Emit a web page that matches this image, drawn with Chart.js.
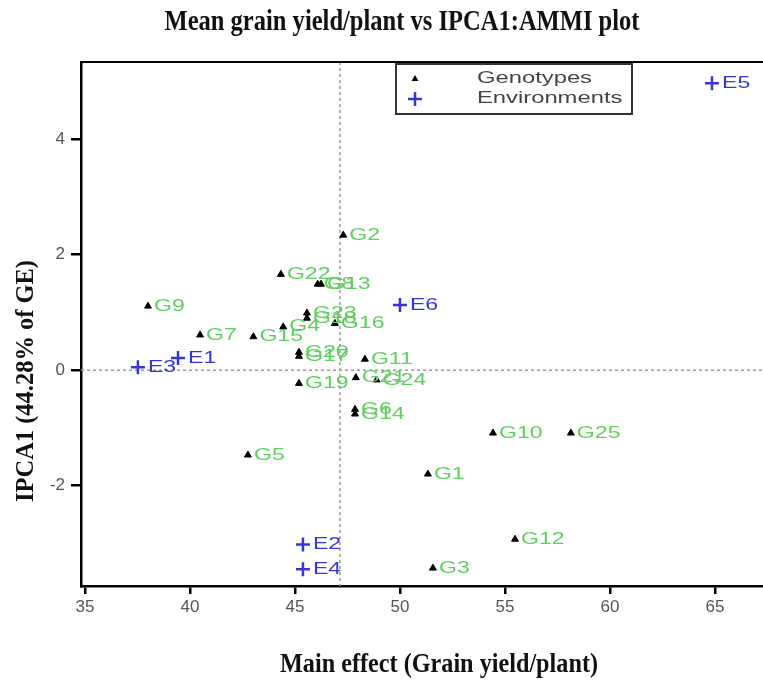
<!DOCTYPE html>
<html>
<head>
<meta charset="utf-8">
<script src="https://cdn.jsdelivr.net/npm/chart.js@4/dist/chart.umd.min.js"></script>
<style>
  body { margin: 0; background: #fff; }
  #wrap { width: 763px; height: 687px; }
</style>
</head>
<body>
<div id="wrap"><canvas id="myChart" width="763" height="687"></canvas></div>
<script>
// genotypes: main effect (x) and IPCA1 score (y)
const genoNames = ["G1","G2","G3","G4","G5","G6","G7","G8","G9","G10","G11","G12","G13",
  "G14","G15","G16","G17","G18","G19","G20","G21","G22","G23","G24","G25"];
const genoX = [51.33, 47.30, 51.57, 44.44, 42.76, 47.86, 40.48, 46.08, 38.00, 54.43, 48.33, 55.48, 46.24,
  47.86, 43.02, 46.90, 45.19, 45.57, 45.19, 45.19, 47.90, 44.33, 45.57, 48.89, 58.14];
const genoY = [-1.80, 2.34, -3.43, 0.75, -1.47, -0.68, 0.61, 1.49, 1.11, -1.09, 0.19, -2.93, 1.49,
  -0.76, 0.58, 0.81, 0.24, 0.90, -0.23, 0.31, -0.13, 1.66, 0.99, -0.17, -1.09];

// environments
const envNames = ["E1","E2","E3","E4","E5","E6"];
const envX = [39.43, 45.38, 37.52, 45.38, 64.86, 50.00];
const envY = [0.21, -3.02, 0.05, -3.45, 4.97, 1.13];

const grandMean = 47.14;
const xTicks = [35, 40, 45, 50, 55, 60, 65];
const yTicks = [-2, 0, 2, 4];

const greenLab = "#5fcf5f";
const blueCol = "#3636d6";

function fitText(ctx, text, cx, y, width) {
  const w = ctx.measureText(text).width;
  ctx.save();
  ctx.translate(cx, y);
  ctx.scale(width / w, 1);
  ctx.textAlign = "center";
  ctx.fillText(text, 0, 0);
  ctx.restore();
}

const extras = {
  id: "extras",
  beforeDatasetsDraw(chart) {
    const ctx = chart.ctx;
    const a = chart.chartArea;
    const xs = chart.scales.x, ys = chart.scales.y;
    ctx.save();
    ctx.strokeStyle = "#9a9a9a";
    ctx.lineWidth = 1.5;
    ctx.setLineDash([3, 3]);
    const y0 = ys.getPixelForValue(0);
    ctx.beginPath(); ctx.moveTo(a.left, y0); ctx.lineTo(a.right, y0); ctx.stroke();
    const xm = xs.getPixelForValue(grandMean);
    ctx.beginPath(); ctx.moveTo(xm, a.top); ctx.lineTo(xm, a.bottom); ctx.stroke();
    ctx.setLineDash([]);
    // top frame line
    ctx.strokeStyle = "#000";
    ctx.lineWidth = 2;
    ctx.beginPath(); ctx.moveTo(a.left, a.top); ctx.lineTo(a.right, a.top); ctx.stroke();
    ctx.restore();
  },
  afterDatasetsDraw(chart) {
    const ctx = chart.ctx;
    ctx.save();
    ctx.font = "16.5px 'Liberation Sans'";
    ctx.textBaseline = "middle";
    const sets = [[0, genoNames, greenLab, 6], [1, envNames, blueCol, 10]];
    sets.forEach(([di, names, col, off]) => {
      const meta = chart.getDatasetMeta(di);
      ctx.fillStyle = col;
      meta.data.forEach((pt, i) => {
        ctx.save();
        ctx.translate(pt.x + off, pt.y);
        ctx.scale(1.4, 1);
        ctx.fillText(names[i], 0, 0);
        ctx.restore();
      });
    });

    // legend box
    ctx.strokeStyle = "#333";
    ctx.lineWidth = 2;
    ctx.strokeRect(396, 64, 236, 50);
    ctx.fillStyle = "#000";
    ctx.beginPath();
    ctx.moveTo(415, 75); ctx.lineTo(418.5, 81); ctx.lineTo(411.5, 81); ctx.closePath(); ctx.fill();
    ctx.strokeStyle = blueCol;
    ctx.lineWidth = 2.5;
    ctx.beginPath();
    ctx.moveTo(408, 99); ctx.lineTo(422, 99); ctx.moveTo(415, 92); ctx.lineTo(415, 106);
    ctx.stroke();
    ctx.fillStyle = "#444";
    ctx.font = "16px 'Liberation Sans'";
    const sc = 115 / ctx.measureText("Genotypes").width;
    [["Genotypes", 79], ["Environments", 99]].forEach(([t, y]) => {
      ctx.save();
      ctx.translate(477, y);
      ctx.scale(sc, 1);
      ctx.fillText(t, 0, 0);
      ctx.restore();
    });

    // titles
    ctx.fillStyle = "#111";
    ctx.textBaseline = "alphabetic";
    ctx.font = "bold 29px 'Liberation Serif'";
    fitText(ctx, "Mean grain yield/plant vs IPCA1:AMMI plot", 402, 30, 475);
    ctx.font = "bold 27px 'Liberation Serif'";
    fitText(ctx, "Main effect (Grain yield/plant)", 439, 672, 318);
    ctx.save();
    ctx.translate(33, 381);
    ctx.rotate(-Math.PI / 2);
    ctx.font = "bold 26px 'Liberation Serif'";
    fitText(ctx, "IPCA1 (44.28% of GE)", 0, 0, 242);
    ctx.restore();
    ctx.restore();
  }
};

new Chart("myChart", {
  type: "scatter",
  data: {
    datasets: [{
      label: "Genotypes",
      data: genoX.map((x, i) => ({x: x, y: genoY[i]})),
      pointStyle: "triangle",
      pointRadius: 4,
      pointBackgroundColor: "#000",
      pointBorderColor: "#000",
      pointBorderWidth: 1
    }, {
      label: "Environments",
      data: envX.map((x, i) => ({x: x, y: envY[i]})),
      pointStyle: "cross",
      pointRadius: 7,
      pointBorderColor: blueCol,
      pointBorderWidth: 2.5
    }]
  },
  options: {
    responsive: false,
    animation: false,
    layout: { autoPadding: false, padding: { left: 0, right: 0, top: 62, bottom: 0 } },
    plugins: {
      legend: { display: false },
      title: { display: false },
      tooltip: { enabled: false }
    },
    scales: {
      x: {
        type: "linear",
        min: 34.81,
        max: 67.29,
        afterBuildTicks: s => { s.ticks = xTicks.map(v => ({value: v})); },
        afterFit: s => { s.height = 101; },
        border: { display: true, color: "#000", width: 2.5 },
        grid: { drawOnChartArea: false, drawTicks: true, tickLength: 8, tickColor: "#000", lineWidth: 2.5 },
        ticks: { color: "#555", font: { family: "Liberation Sans", size: 17 }, padding: 3, maxRotation: 0 }
      },
      y: {
        type: "linear",
        min: -3.74,
        max: 5.34,
        afterBuildTicks: s => { s.ticks = yTicks.map(v => ({value: v})); },
        afterFit: s => { s.width = 81; },
        border: { display: true, color: "#000", width: 2.5 },
        grid: { drawOnChartArea: false, drawTicks: true, tickLength: 10, tickColor: "#000", lineWidth: 2.5 },
        ticks: { color: "#555", font: { family: "Liberation Sans", size: 17 }, padding: 6 }
      }
    }
  },
  plugins: [extras]
});
</script>
</body>
</html>
